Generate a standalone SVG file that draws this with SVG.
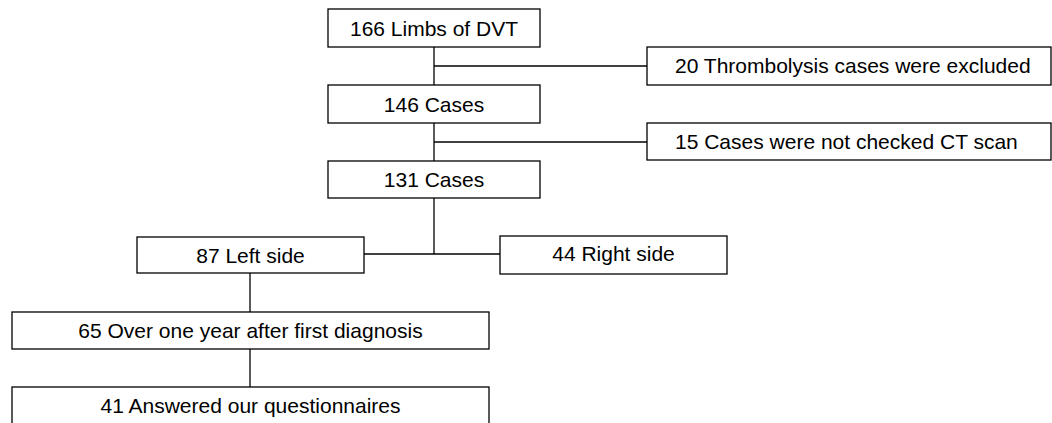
<svg xmlns="http://www.w3.org/2000/svg" width="1052" height="423" viewBox="0 0 1052 423">
<style>
.box{fill:#fff;stroke:#000;stroke-width:1.3}
.t{font-family:"Liberation Sans",Arial,sans-serif;font-size:21px;fill:#000}
.c{text-anchor:middle}
.ln{stroke:#000;stroke-width:1.3;fill:none}
</style>
<rect width="1052" height="423" fill="#fff"/>
<g id="connectors">
<line class="ln" x1="434" y1="47" x2="434" y2="85"/>
<line class="ln" x1="434" y1="66" x2="647" y2="66"/>
<line class="ln" x1="434" y1="123" x2="434" y2="161"/>
<line class="ln" x1="434" y1="142" x2="647" y2="142"/>
<line class="ln" x1="434" y1="198" x2="434" y2="254"/>
<line class="ln" x1="364" y1="254" x2="500" y2="254"/>
<line class="ln" x1="250" y1="273" x2="250" y2="312"/>
<line class="ln" x1="250" y1="349" x2="250" y2="387"/>
</g>
<g id="n166"><rect class="box" x="328" y="9" width="212" height="38"/><text class="t c" x="434" y="35.5">166 Limbs of DVT</text></g>
<g id="n20"><rect class="box" x="647" y="47" width="404" height="38"/><text class="t" x="675" y="73">20 Thrombolysis cases were excluded</text></g>
<g id="n146"><rect class="box" x="328" y="85" width="212" height="38"/><text class="t c" x="434" y="111.5">146 Cases</text></g>
<g id="n15"><rect class="box" x="647" y="123" width="404" height="37"/><text class="t" x="675" y="149">15 Cases were not checked CT scan</text></g>
<g id="n131"><rect class="box" x="328" y="161" width="212" height="37"/><text class="t c" x="434" y="187">131 Cases</text></g>
<g id="n87"><rect class="box" x="137" y="237" width="227" height="36"/><text class="t c" x="250.5" y="262.5">87 Left side</text></g>
<g id="n44"><rect class="box" x="500" y="236" width="227" height="38"/><text class="t c" x="613.5" y="261">44 Right side</text></g>
<g id="n65"><rect class="box" x="12" y="312" width="477" height="37"/><text class="t c" x="250.5" y="337.5">65 Over one year after first diagnosis</text></g>
<g id="n41"><rect class="box" x="12" y="387" width="477" height="40"/><text class="t c" x="250.5" y="412.5">41 Answered our questionnaires</text></g>
</svg>
